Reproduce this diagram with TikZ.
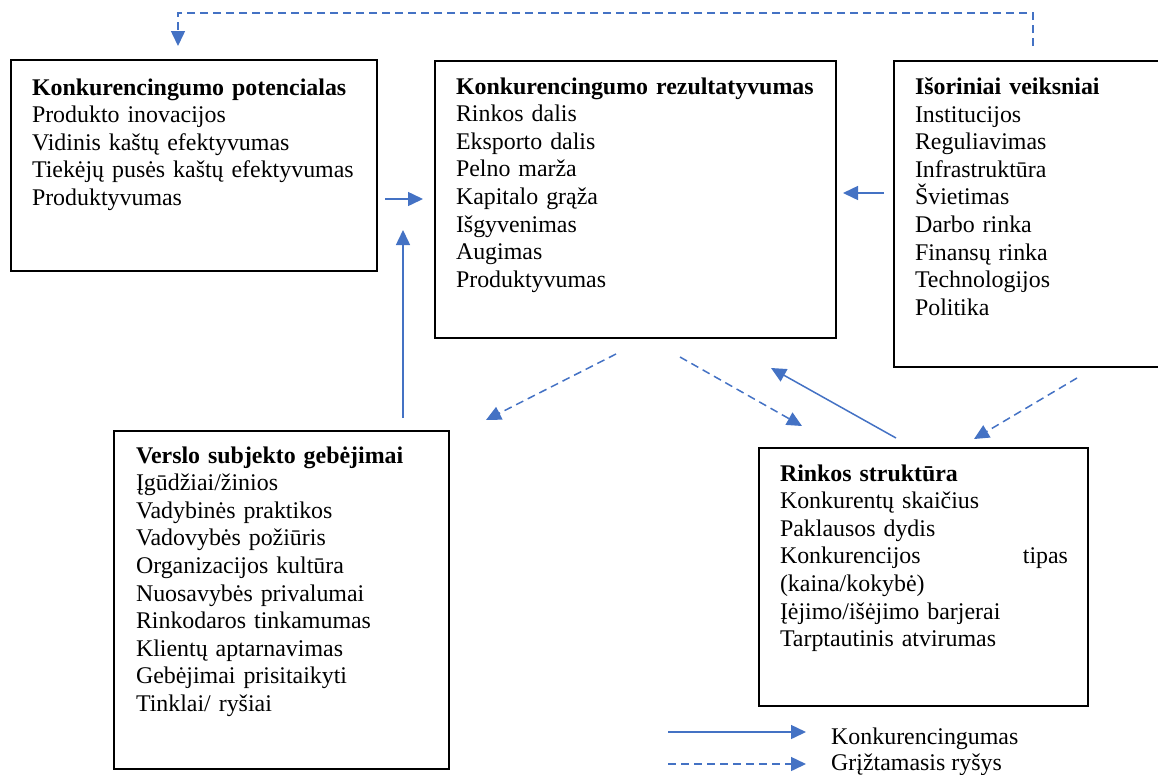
\documentclass[tikz,border=0pt]{standalone}
\usepackage{fontspec}
\setmainfont{Liberation Serif}
\usetikzlibrary{arrows.meta}
\definecolor{arrowblue}{HTML}{4472C4}
\begin{document}
\begin{tikzpicture}[x=1pt,y=-1pt,
  box/.style={draw=black, line width=1.4pt, inner sep=0pt, outer sep=0pt, anchor=north west},
  txt/.style={anchor=north west, inner sep=0pt, outer sep=0pt, align=left, text width=420pt,
    font=\fontsize{23.9}{27.6}\selectfont},
  legendtxt/.style={anchor=base west, inner sep=0pt, font=\fontsize{23.9}{27.6}\selectfont},
  solidarrow/.style={draw=arrowblue, line width=1.5pt, -{Triangle[length=15pt,width=14pt]}},
  fbarrow/.style={solidarrow, dash pattern=on 8pt off 5pt}]
\useasboundingbox (0,0) rectangle (1158,774);

% boxes
\node[box, minimum width=366pt, minimum height=211pt] (b1) at (11,60) {};
\node[box, minimum width=401pt, minimum height=277pt] (b2) at (435,61) {};
\node[box, minimum width=280pt, minimum height=306pt] (b3) at (894,61) {};
\node[box, minimum width=335pt, minimum height=338pt] (b4) at (114,431) {};
\node[box, minimum width=329pt, minimum height=258pt] (b5) at (759,448) {};

% texts
\node[txt] (t1) at (32,78.6) {\textbf{Konkurencingumo potencialas}\\
Produkto inovacijos\\
Vidinis kaštų efektyvumas\\
Tiekėjų pusės kaštų efektyvumas\\
Produktyvumas};
\node[txt] (t2) at (456,77.6) {\textbf{Konkurencingumo rezultatyvumas}\\
Rinkos dalis\\
Eksporto dalis\\
Pelno marža\\
Kapitalo grąža\\
Išgyvenimas\\
Augimas\\
Produktyvumas};
\node[txt] (t3) at (915,77.6) {\textbf{Išoriniai veiksniai}\\
Institucijos\\
Reguliavimas\\
Infrastruktūra\\
Švietimas\\
Darbo rinka\\
Finansų rinka\\
Technologijos\\
Politika};
\node[txt] (t4) at (136,446.6) {\textbf{Verslo subjekto gebėjimai}\\
Įgūdžiai/žinios\\
Vadybinės praktikos\\
Vadovybės požiūris\\
Organizacijos kultūra\\
Nuosavybės privalumai\\
Rinkodaros tinkamumas\\
Klientų aptarnavimas\\
Gebėjimai prisitaikyti\\
Tinklai/ ryšiai};
\node[txt] (t5) at (780,464.6) {\textbf{Rinkos struktūra}\\
Konkurentų skaičius\\
Paklausos dydis\\
\makebox[288pt][s]{Konkurencijos\hfill tipas}\\
(kaina/kokybė)\\
Įėjimo/išėjimo barjerai\\
Tarptautinis atvirumas};

% connector end points
\coordinate (a1s) at (385,199);  \coordinate (a1e) at (423,199);
\coordinate (a2s) at (403,418);  \coordinate (a2e) at (403,230);
\coordinate (a3s) at (884,193);  \coordinate (a3e) at (843,193);
\coordinate (d1s) at (616,354);  \coordinate (d1e) at (486,420);
\coordinate (d2s) at (680,357);  \coordinate (d2e) at (802,426);
\coordinate (s1s) at (896,438);  \coordinate (s1e) at (771,368);
\coordinate (d3s) at (1077,378); \coordinate (d3e) at (974,439);
\coordinate (tp0) at (1033,46);  \coordinate (tp1) at (1033,13);
\coordinate (tp2) at (178,13);   \coordinate (tp3) at (178,46);

% connectors
\draw[solidarrow] (a1s) -- (a1e);
\draw[solidarrow] (a2s) -- (a2e);
\draw[solidarrow] (a3s) -- (a3e);
\draw[solidarrow] (s1s) -- (s1e);
\draw[fbarrow] (d1s) -- (d1e);
\draw[fbarrow] (d2s) -- (d2e);
\draw[fbarrow] (d3s) -- (d3e);
\draw[fbarrow] (tp0) -- (tp1) -- (tp2) -- (tp3);

% legend
\coordinate (l1s) at (668,732); \coordinate (l1e) at (806,732);
\coordinate (l2s) at (668,764); \coordinate (l2e) at (806,764);
\draw[solidarrow] (l1s) -- (l1e);
\draw[fbarrow] (l2s) -- (l2e);
\node[legendtxt] (lg1) at (831,744) {Konkurencingumas};
\node[legendtxt] (lg2) at (831,770) {Grįžtamasis ryšys};
\end{tikzpicture}
\end{document}
